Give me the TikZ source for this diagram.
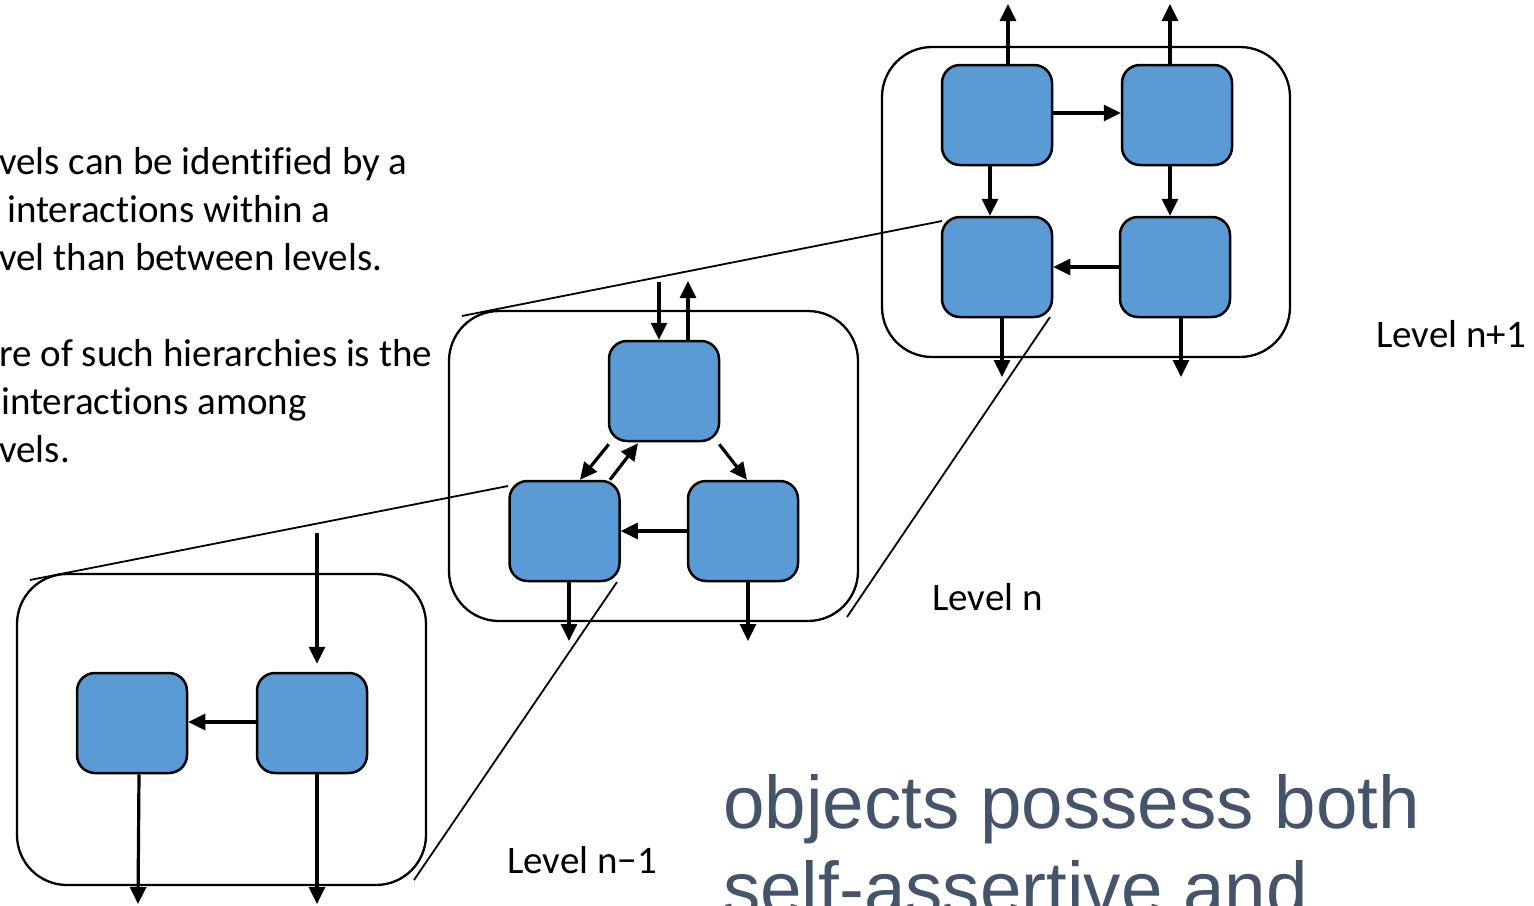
\documentclass[tikz,border=0pt]{standalone}
\usepackage{fontspec}
\setmainfont[Ligatures={NoCommon,NoContextual}]{Carlito}
\newfontfamily\bigfont{Liberation Sans}
\usetikzlibrary{arrows.meta}
\definecolor{boxblue}{HTML}{5B9BD5}
\definecolor{slate}{HTML}{44546A}
\tikzset{
  blk/.style={draw=black, line width=2.5pt, fill=boxblue, rounded corners=18pt, minimum width=110pt, minimum height=100pt, inner sep=0pt},
  cont/.style={draw=black, line width=2.3pt, rounded corners=50pt, inner sep=0pt},
  arr/.style={line width=3.2pt, -{Triangle[length=17pt,width=16pt]}},
  zoomline/.style={line width=1.8pt},
  lbl/.style={anchor=base west, inner sep=0pt, font=\fontsize{39}{46}\selectfont},
  txt/.style={anchor=base west, inner sep=0pt, font=\fontsize{39}{46}\selectfont},
  bigtxt/.style={anchor=base west, inner sep=0pt, text=slate, font=\bigfont\fontsize{74.6}{86}\selectfont},
}
\begin{document}
\begin{tikzpicture}[x=1pt,y=-1pt]
\clip (0,0) rectangle (1534,905);
\useasboundingbox (0,0) rectangle (1534,905);

% containers
\node[cont, minimum width=408pt, minimum height=310pt] (C1) at (1086,202) {};
\node[cont, minimum width=409pt, minimum height=310pt] (C2) at (653.5,466) {};
\node[cont, minimum width=409pt, minimum height=311pt] (C3) at (221.5,729.5) {};

% top level boxes
\node[blk] (t1) at (997,115) {};
\node[blk] (t2) at (1177,115) {};
\node[blk] (t3) at (997,267) {};
\node[blk] (t4) at (1175,267) {};
\coordinate (t1o) at (1008,4);
\coordinate (t2o) at (1170,4);
\coordinate (t3o) at (1002,377);
\coordinate (t4o) at (1181,377);
\draw[arr] ([xshift=11pt]t1.north) -- (t1o);
\draw[arr] ([xshift=-7pt]t2.north) -- (t2o);
\draw[arr] ([yshift=2pt]t1.east) -- ([yshift=2pt]t2.west);
\draw[arr] ([xshift=-7pt]t1.south) -- ([xshift=-7pt]t1.south |- t3.north);
\draw[arr] ([xshift=-7pt]t2.south) -- ([xshift=-7pt]t2.south |- t4.north);
\draw[arr] (t4.west) -- (t3.east);
\draw[arr] ([xshift=5pt]t3.south) -- (t3o);
\draw[arr] ([xshift=6pt]t4.south) -- (t4o);

% middle level boxes
\node[blk] (m1) at (664,391) {};
\node[blk] (m2) at (564.5,531) {};
\node[blk] (m3) at (743,531) {};
\coordinate (m1i) at (659,282);
\coordinate (m1o) at (688,281);
\coordinate (m2o) at (569,641);
\coordinate (m3o) at (748,641);
\draw[arr] (m1i) -- ([xshift=-5pt]m1.north);
\draw[arr] ([xshift=24pt]m1.north) -- (m1o);
\draw[arr] ([xshift=1pt,yshift=-2pt]m1.south west) -- ([xshift=15.5pt]m2.north);
\draw[arr] ([xshift=45.5pt]m2.north) -- ([xshift=-26pt,yshift=-1pt]m1.south);
\draw[arr] ([xshift=-1pt,yshift=-2pt]m1.south east) -- ([xshift=4pt]m3.north);
\draw[arr] (m3.west) -- (m2.east);
\draw[arr] ([xshift=4.5pt]m2.south) -- (m2o);
\draw[arr] ([xshift=5pt]m3.south) -- (m3o);

% bottom level boxes
\node[blk] (b1) at (132,723) {};
\node[blk] (b2) at (312,723) {};
\coordinate (b2i) at (317,533);
\coordinate (b1o) at (138,904);
\coordinate (b2o) at (317,904);
\draw[arr] (b2i) -- ([xshift=5pt,yshift=8pt]b2.north);
\draw[arr] ([yshift=1pt]b2.west) -- ([yshift=1pt]b1.east);
\draw[arr] ([xshift=7pt]b1.south) -- (b1o);
\draw[arr] ([xshift=5pt]b2.south) -- (b2o);

% zoom lines
\coordinate (za1) at (462,316);
\coordinate (za2) at (942,221);
\coordinate (zb1) at (1050,317);
\coordinate (zb2) at (847,617);
\coordinate (zc1) at (30,580);
\coordinate (zc2) at (508,486);
\coordinate (zd1) at (617,582);
\coordinate (zd2) at (414,880);
\draw[zoomline] (za1) -- (za2);
\draw[zoomline] (zb1) -- (zb2);
\draw[zoomline] (zc1) -- (zc2);
\draw[zoomline] (zd1) -- (zd2);

% labels
\node[lbl] (L1) at (1376,347) {Level n+1};
\node[lbl] (L2) at (932,610) {Level n};
\node[lbl] (L3) at (507,873) {Level n−1};

% left text
\node[txt] (x1) at (-1,174) {vels can be identified by a};
\node[txt] (x2) at (7,222) {interactions within a};
\node[txt] (x3) at (-1,270) {vel than between levels.};
\node[txt] (x4) at (-1,366) {re of such hierarchies is the};
\node[txt] (x5) at (1,414) {interactions among};
\node[txt] (x6) at (-1,462) {vels.};

% big text
\node[bigtxt] (big1) at (723,828) {objects possess both};
\node[bigtxt] (big2) at (723,914) {self-assertive and};
\end{tikzpicture}
\end{document}
